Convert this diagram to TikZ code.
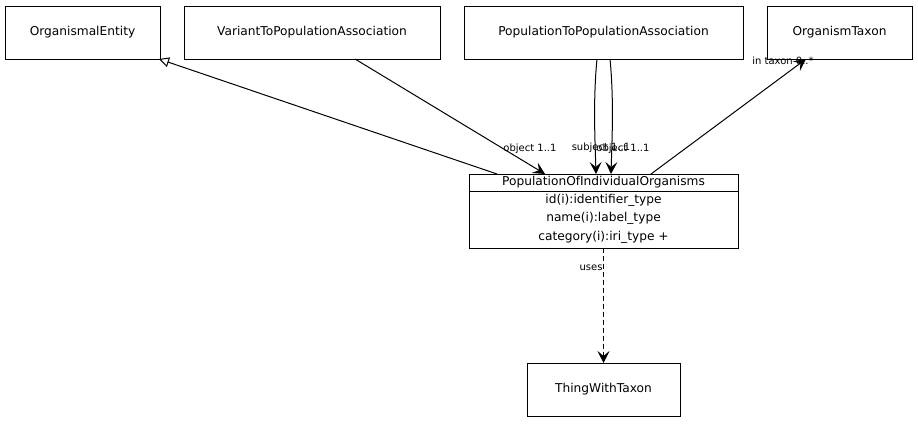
\documentclass[tikz,border=0pt]{standalone}
\usepackage{fontspec}
\setmainfont{DejaVu Sans}
\usetikzlibrary{arrows.meta,positioning}
\begin{document}
\begin{tikzpicture}[x=1pt,y=-1pt,
  cls/.style={draw,line width=1pt,minimum height=53pt,inner sep=0pt,font=\fontsize{12.2}{14}\selectfont},
  attr/.style={font=\fontsize{12.2}{14}\selectfont,inner sep=0pt},
  lbl/.style={font=\fontsize{10}{12}\selectfont,inner sep=0.5pt},
  assoc/.style={line width=1pt,-{Stealth[length=12pt,width=12pt,inset=5pt]}},
  gen/.style={line width=1pt,-{Triangle[open,length=10pt,width=10pt,fill=white]}},
  usesline/.style={line width=1pt,dash pattern=on 5pt off 3pt,-{Stealth[length=12pt,width=12pt,inset=5pt]}}]
\useasboundingbox (0,0) rectangle (918,423);
\node[cls,minimum width=155pt] (oe) at (82.5,32.5) {OrganismalEntity};
\node[cls,minimum width=256pt] (vpa) at (312,32.5) {VariantToPopulationAssociation};
\node[cls,minimum width=279pt] (ppa) at (603.5,32.5) {PopulationToPopulationAssociation};
\node[cls,minimum width=145pt] (ot) at (839.5,32.5) {OrganismTaxon};
\node[cls,minimum width=153pt] (twt) at (603.5,389.5) {ThingWithTaxon};
% POIO class box
\node[draw,line width=1pt,minimum width=269pt,minimum height=74pt,inner sep=0pt] (poio) at (603.5,211) {};
\draw[line width=1pt] (469,191) -- (738,191);
\node[attr] (poiot) at (603.5,182.5) {PopulationOfIndividualOrganisms};
\node[attr] (a1) at (603.5,200.5) {id(i):identifier\_type};
\node[attr] (a2) at (603.5,218.5) {name(i):label\_type};
\node[attr] (a3) at (603.5,237) {category(i):iri\_type +};
% coordinates
\coordinate (g1) at (497,174);
\coordinate (g2) at (159,59);
\coordinate (v1) at (355,59);
\coordinate (v2) at (545,174);
\coordinate (s1) at (597,59);
\coordinate (s2) at (596,174);
\coordinate (o1) at (610,59);
\coordinate (o2) at (611,174);
\coordinate (t1) at (651,174);
\coordinate (t2) at (806,59);
\coordinate (u1) at (603.5,248);
\coordinate (u2) at (603.5,363);
\draw[gen] (g1) -- (g2);
\draw[assoc] (v1) -- (v2);
\draw[assoc] (s1) .. controls (593,100) and (595,140) .. (s2);
\draw[assoc] (o1) .. controls (614,100) and (612,140) .. (o2);
\draw[assoc] (t1) -- (t2);
\draw[usesline] (u1) -- (u2);
\node[lbl] (l1) at (530,149) {object 1..1};
\node[lbl] (l2) at (601,147.5) {subject 1..1};
\node[lbl] (l3) at (623,148.5) {object 1..1};
\node[lbl] (l4) at (783,61) {in taxon 0..*};
\node[lbl] (l5) at (591,268) {uses};
\end{tikzpicture}
\end{document}
